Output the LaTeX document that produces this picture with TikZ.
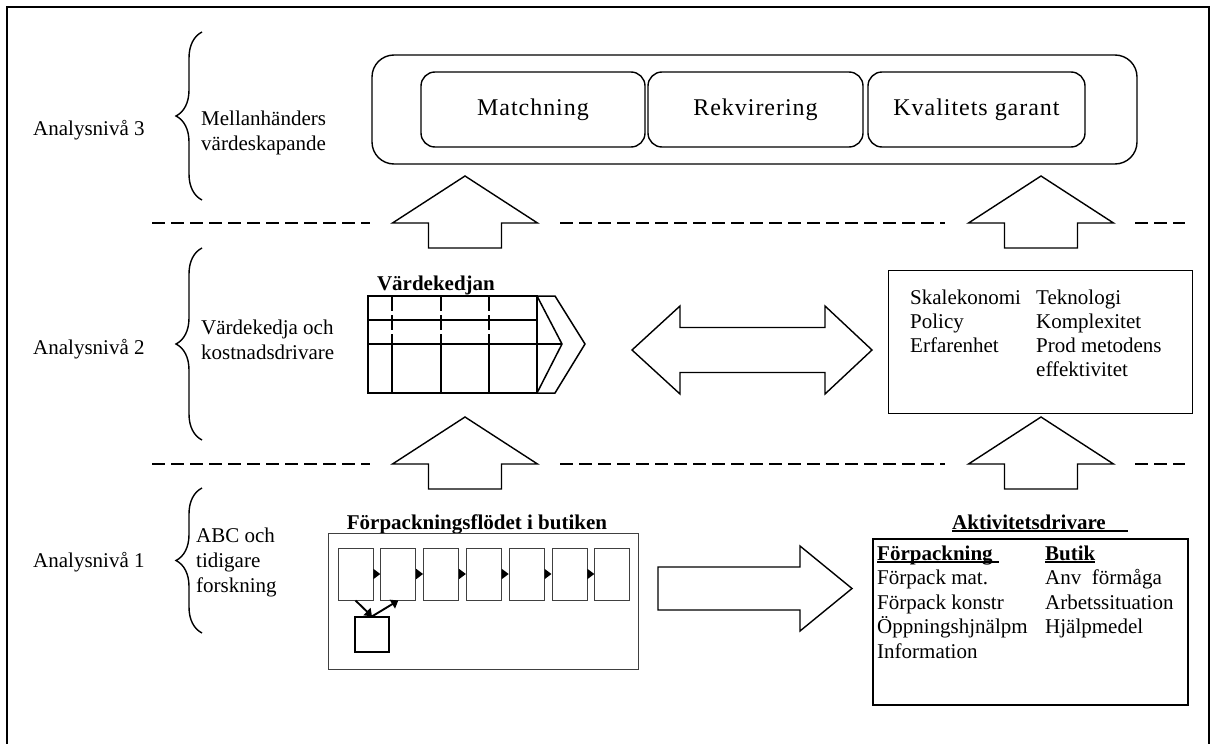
\documentclass[tikz,border=0pt]{standalone}
\usepackage{fontspec}
\setmainfont{Liberation Serif}
\newfontfamily\tagfont[LetterSpace=4]{Liberation Serif}
\usetikzlibrary{decorations.pathreplacing,arrows.meta}
% underline a word (and any trailing space) just below the baseline
\newcommand\ulword[1]{\setbox0\hbox{#1}\rlap{\rule[-2.6pt]{\wd0}{1.3pt}}\box0}

\begin{document}
\begin{tikzpicture}[x=1pt,y=-1pt,
  lbl/.style={font=\fontsize{21}{25}\selectfont,inner sep=0pt,anchor=west,text height=14pt,text depth=0pt},
  ctr/.style={lbl,anchor=center},
  brc/.style={decorate,decoration={brace,amplitude=26pt},line width=1.4pt},
  sepline/.style={line width=1.5pt,dash pattern=on 13pt off 6pt},
  tagbox/.style={draw,line width=1.4pt,rounded corners=14pt,inner sep=0pt,
    font=\tagfont\fontsize{24}{28}\selectfont},
  blk/.style={draw,line width=1.4pt,fill=white,line join=miter},
  grid/.style={line width=1.5pt},
  gridd/.style={line width=1.5pt,dash pattern=on 15pt off 4pt},
  fbox/.style={draw=black!75,line width=1pt,minimum width=35pt,minimum height=52pt,inner sep=0pt},
  flowarrow/.style={line width=1.9pt,-{Triangle[length=7pt,width=10pt]}},
]
\useasboundingbox (0,0) rectangle (1210,744);

% outer frame (open at the bottom)
\draw[line width=1.6pt] (7,744) -- (7,7) -- (1209,7) -- (1209,744);

% level captions and braces
\node[lbl] (lv3) at (33,128) {Analysnivå 3};
\node[lbl] (lv2) at (33,347) {Analysnivå 2};
\node[lbl] (lv1) at (33,560) {Analysnivå 1};

\draw[brc] (202,200) -- (202,32);
\draw[brc] (202,440) -- (202,248);
\draw[brc] (202,633) -- (202,488);

\node[lbl] (d3a) at (201,118) {Mellanhänders};
\node[lbl] (d3b) at (201,143) {värdeskapande};
\node[lbl] (d2a) at (201,327) {Värdekedja och};
\node[lbl] (d2b) at (201,352) {kostnadsdrivare};
\node[lbl] (d1a) at (196,535) {ABC och};
\node[lbl] (d1b) at (196,560) {tidigare};
\node[lbl] (d1c) at (196,585) {forskning};

% separators between the levels
\foreach \y in {223,464} {
  \draw[sepline] (152,\y) -- (370,\y);
  \draw[sepline] (560,\y) -- (945,\y);
  \draw[sepline] (1135,\y) -- (1185,\y);
}

% level 3: intermediaries
\node[draw,line width=1.4pt,rounded corners=22pt,minimum width=765pt,minimum height=109pt,inner sep=0pt]
  (grp) at (754.5,109.5) {};
\node[tagbox,minimum width=224pt,minimum height=75pt] (match) at (533,109.5) {Matchning};
\node[tagbox,minimum width=215pt,minimum height=75pt] (rekv) at (755.5,109.5) {Rekvirering};
\node[tagbox,minimum width=217pt,minimum height=75pt] (kval) at (976.5,109.5) {Kvalitets garant};

% upward block arrows
\foreach \x/\y in {465/176,1041/176,465/417,1041/417} {
  \draw[blk] (\x,\y) -- ++(72.5,47) -- ++(-36,0) -- ++(0,25) -- ++(-73,0) -- ++(0,-25) -- ++(-36,0) -- cycle;
}

% level 2: value chain
\node[ctr,font=\fontsize{21}{25}\selectfont\bfseries] (vktitle) at (436,283) {Värdekedjan};
\draw[grid] (368,296) rectangle (537,393);
\draw[grid] (368,320) -- (537,320);
\draw[grid] (368,344) -- (562,344);
\foreach \x in {392,441,489,537} {
  \draw[gridd] (\x,296) -- (\x,344);
  \draw[grid] (\x,344) -- (\x,393);
}
\draw[grid,line join=miter] (537,296) -- (555,296) -- (585,344) -- (555,393) -- (537,393);
\draw[grid,line join=miter] (537,296) -- (562,344) -- (537,393);

% two-way block arrow
\draw[blk] (632,350) -- (680,306) -- (680,327.5) -- (825,327.5) -- (825,306) -- (872,350)
  -- (825,394) -- (825,372.5) -- (680,372.5) -- (680,394) -- cycle;

% cost drivers
\node[draw,line width=1.4pt,minimum width=304pt,minimum height=143pt,inner sep=0pt,anchor=north west]
  (drv) at (888,270) {};
\node[lbl] (c1) at (910,297) {Skalekonomi};
\node[lbl] (c2) at (910,321) {Policy};
\node[lbl] (c3) at (910,345) {Erfarenhet};
\node[lbl] (c4) at (1036,297) {Teknologi};
\node[lbl] (c5) at (1036,321) {Komplexitet};
\node[lbl] (c6) at (1036,345) {Prod metodens};
\node[lbl] (c7) at (1036,369) {effektivitet};

% level 1: packaging flow in the store
\node[ctr,font=\fontsize{21}{25}\selectfont\bfseries] (ftitle) at (477,522) {Förpackningsflödet i butiken};
\node[draw=black!75,line width=1pt,minimum width=310pt,minimum height=136pt,inner sep=0pt,anchor=north west]
  (flow) at (328,533) {};
\foreach \i in {1,...,7} {
  \node[fbox] (s\i) at ({355.5+(\i-1)*42.8},574) {};
}
\foreach \i [count=\j from 2] in {1,...,6} {
  \draw[flowarrow] (s\i.east) -- (s\j.west);
}
\node[draw,line width=1.2pt,minimum width=34pt,minimum height=35pt,inner sep=0pt] (s0) at (372,634.5) {};
\draw[flowarrow] (s1.south) -- (s0.north);
\draw[flowarrow] (s0.north) -- (s2.south);

% arrow towards the activity drivers
\draw[blk] (658,567) -- (800,567) -- (800,546) -- (852,588.5) -- (800,631) -- (800,610) -- (658,610) -- cycle;

% activity drivers
\node[lbl,font=\fontsize{21}{25}\selectfont\bfseries] (atitle) at (952,522) {\ulword{Aktivitetsdrivare\hspace{22pt}}};
\node[draw,line width=2pt,minimum width=315pt,minimum height=166pt,inner sep=0pt,anchor=north west]
  (act) at (872,538) {};
\node[lbl,font=\fontsize{21}{25}\selectfont\bfseries] (p0) at (877,553) {\ulword{Förpackning\hspace{6pt}}};
\node[lbl] (p1) at (877,577.5) {Förpack mat.};
\node[lbl] (p2) at (877,602) {Förpack konstr};
\node[lbl] (p3) at (877,626.5) {Öppningshjnälpm};
\node[lbl] (p4) at (877,651) {Information};
\node[lbl,font=\fontsize{21}{25}\selectfont\bfseries] (b0) at (1045,553) {\ulword{Butik}};
\node[lbl] (b1) at (1045,577.5) {Anv\ \ förmåga};
\node[lbl] (b2) at (1045,602) {Arbetssituation};
\node[lbl] (b3) at (1045,626.5) {Hjälpmedel};
\end{tikzpicture}
\end{document}
